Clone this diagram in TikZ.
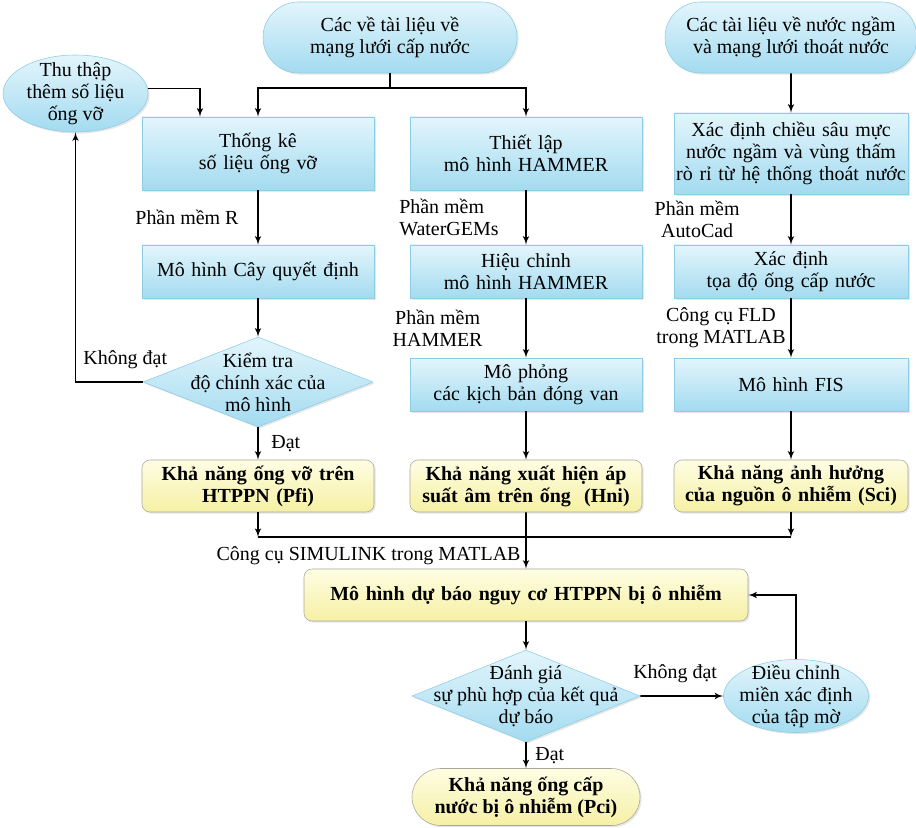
\documentclass[tikz,border=0pt]{standalone}
\usepackage{fontspec}
\setmainfont{Liberation Serif}
\usepackage{tikz}
\usetikzlibrary{shapes,arrows,positioning,shadows}
\definecolor{bluetop}{HTML}{E3F5FC}
\definecolor{bluebot}{HTML}{A3DBF0}
\definecolor{blueline}{HTML}{8CCDE4}
\definecolor{yeltop}{HTML}{FEFDE3}
\definecolor{yelbot}{HTML}{F6F0A4}
\definecolor{yelline}{HTML}{A8A89A}
\tikzstyle{block} = [rectangle, draw=blueline, top color=bluetop, bottom color=bluebot,
    text width=5.8cm, inner xsep=0pt, align=center, minimum height=1.325cm,
    drop shadow={opacity=0.2, shadow xshift=0.04cm, shadow yshift=-0.04cm}]
\tikzstyle{result} = [rectangle, draw=yelline, top color=yeltop, bottom color=yelbot,
    rounded corners=0.2cm, text width=5.8cm, inner xsep=0pt, align=center, minimum height=1.3cm,
    font=\fontsize{14.2pt}{15.6pt}\selectfont\bfseries,
    drop shadow={opacity=0.2, shadow xshift=0.04cm, shadow yshift=-0.04cm}]
\tikzstyle{decision} = [diamond, draw=blueline, top color=bluetop, bottom color=bluebot,
    inner sep=0pt, minimum width=5.75cm, minimum height=2.25cm,
    drop shadow={opacity=0.2, shadow xshift=0.04cm, shadow yshift=-0.04cm}]
\tikzstyle{terminal} = [rectangle, draw=blueline, top color=bluetop, bottom color=bluebot,
    rounded corners=0.8875cm, align=center, minimum width=6.35cm, minimum height=1.775cm,
    drop shadow={opacity=0.2, shadow xshift=0.04cm, shadow yshift=-0.04cm}]
\tikzstyle{bubble} = [ellipse, draw=blueline, top color=bluetop, bottom color=bluebot,
    inner sep=0pt, minimum width=3.625cm, minimum height=1.925cm,
    drop shadow={opacity=0.2, shadow xshift=0.04cm, shadow yshift=-0.04cm}]
\tikzstyle{line} = [draw, -latex', line width=1.1pt]
\tikzstyle{wire} = [draw, line width=1.1pt]

\begin{document}
\begin{tikzpicture}[node distance=2.95cm, font=\fontsize{14.2pt}{15.6pt}\selectfont]
    \useasboundingbox (0,0) rectangle (22.9,-20.675);
    % Place nodes
    \node [terminal] (docsupply) at (9.75,-0.9375) {Các về tài liệu về\\mạng lưới cấp nước};
    \node [terminal, minimum width=6.3cm] (docdrain) at (19.775,-0.9375) {Các tài liệu về nước ngầm\\và mạng lưới thoát nước};
    \node [bubble, label={[align=center]center:Thu thập\\thêm số liệu\\ống vỡ}] (collect) at (1.8875,-2.3375) {};
    \node [block, minimum height=1.825cm] (stats) at (6.45,-3.8375) {Thống kê\\số liệu ống vỡ};
    \node [block, below of=stats] (tree) {Mô hình Cây quyết định};
    \node [decision, below of=tree, node distance=2.7625cm,
        label={[align=center]center:Kiểm tra\\độ chính xác của\\mô hình}] (check) {};
    \node [result, below of=check, node distance=2.6cm] (pfi) {Khả năng ống vỡ trên\\HTPPN (Pfi)};
    \node [block, minimum height=1.825cm, right of=stats, node distance=6.7cm] (setup) {Thiết lập\\mô hình HAMMER};
    \node [block, below of=setup] (calib) {Hiệu chỉnh\\mô hình HAMMER};
    \node [block, below of=calib, node distance=2.825cm] (valves) {Mô phỏng\\các kịch bản đóng van};
    \node [result, right of=pfi, node distance=6.7cm] (hni) {Khả năng xuất hiện áp\\suất âm trên ống~ (Hni)};
    \node [block, minimum height=2.025cm, text width=5.85cm, right of=setup, node distance=6.625cm] (depth) {Xác định chiều sâu mực\\nước ngầm và vùng thấm\\rò rỉ từ hệ thống thoát nước};
    \node [block, text width=5.85cm, below of=depth] (coord) {Xác định\\tọa độ ống cấp nước};
    \node [block, text width=5.85cm, below of=coord, node distance=2.825cm] (fis) {Mô hình FIS};
    \node [result, text width=5.85cm, right of=hni, node distance=6.625cm] (sci) {Khả năng ảnh hưởng\\của nguồn ô nhiễm (Sci)};
    \node [result, text width=11.1cm] (model) at (13.15,-14.875) {Mô hình dự báo nguy cơ HTPPN bị ô nhiễm};
    \node [decision, below of=model, node distance=2.525cm, minimum width=5.7cm, minimum height=2.3cm,
        label={[align=center]center:Đánh giá\\sự phù hợp của kết quả\\dự báo}] (eval) {};
    \node [terminal, draw=yelline, top color=yeltop, bottom color=yelbot, rounded corners=0.7125cm,
        minimum width=5.7cm, minimum height=1.425cm, font=\fontsize{14.2pt}{15.6pt}\selectfont\bfseries,
        below of=eval, node distance=2.525cm] (pci) {Khả năng ống cấp\\nước bị ô nhiễm (Pci)};
    \node [bubble, minimum height=1.825cm,
        label={[align=center]center:Điều chỉnh\\miền xác định\\của tập mờ}] (adjust) at (19.9,-17.4) {};

    % Draw edges
    \coordinate (split) at (9.75,-2.2);
    \path [wire] (docsupply) -- (split);
    \path [line] (split) -| (stats);
    \path [line] (split) -| (setup);
    \path [line] (collect.4) -| ([xshift=-1.45cm]stats.north);
    \path [line] (stats) -- node [left=0.35cm] {Phần mềm R} (tree);
    \path [line] (tree) -- (check);
    \path [line] (check) -- node [right=0.2cm] {Đạt} (pfi);
    \path [line] (check) -| node [pos=0.13, above=0.2cm] {Không đạt} (collect);
    \path [line] (setup) -- node [left=0.55cm, align=left] {Phần mềm\\WaterGEMs} (calib);
    \path [line] (calib) -- node [left=0.95cm, align=center] {Phần mềm\\HAMMER} (valves);
    \path [line] (valves) -- (hni);
    \path [line] (docdrain) -- (depth);
    \path [line] (depth) -- node [left=1.15cm, align=center] {Phần mềm\\AutoCad} (coord);
    \path [line] (coord) -- node [left, align=center] {Công cụ FLD\\trong MATLAB} (fis);
    \path [line] (fis) -- (sci);
    \coordinate (merge) at (13.15,-13.425);
    \path [line] (pfi) -- (pfi |- merge);
    \path [line] (sci) -- (sci |- merge);
    \path [wire] (pfi |- merge) -- (sci |- merge);
    \path [line] (hni) -- node [pos=0.77, left] {Công cụ SIMULINK trong MATLAB} (model);
    \path [line] (model) -- (eval);
    \path [line] (eval) -- node [right=0.1cm] {Đạt} (pci);
    \path [line] (eval) -- node [pos=0.42, above=0.2cm] {Không đạt} (adjust);
    \path [line] (adjust) |- (model);
\end{tikzpicture}
\end{document}
